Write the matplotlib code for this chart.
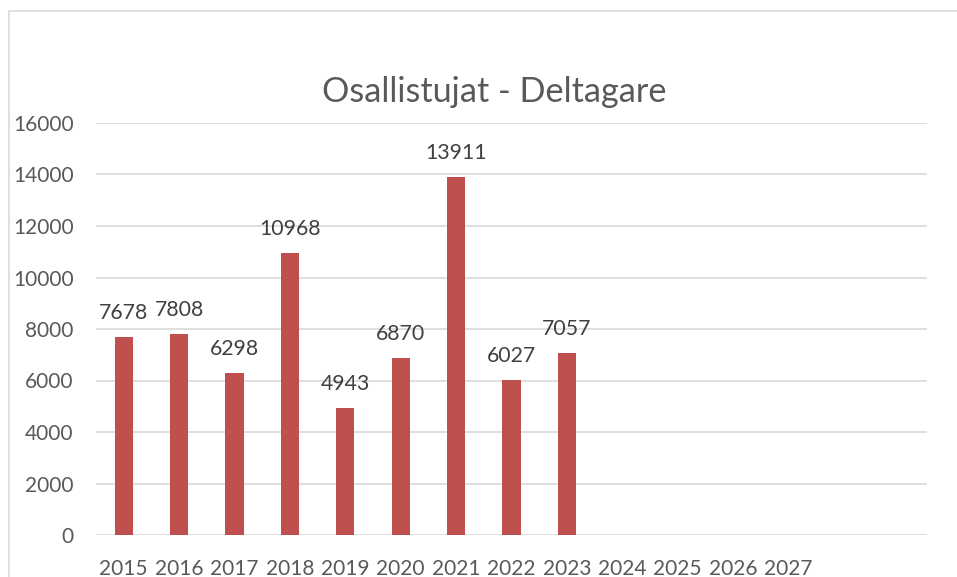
import matplotlib.pyplot as plt
from matplotlib.patches import Rectangle

years = ['2015', '2016', '2017', '2018', '2019', '2020', '2021', '2022', '2023',
         '2024', '2025', '2026', '2027', '', '']
values = [7678, 7808, 6298, 10968, 4943, 6870, 13911, 6027, 7057]
yticks = [0, 2000, 4000, 6000, 8000, 10000, 12000, 14000, 16000]

plt.rcParams['font.family'] = ['Lato', 'DejaVu Sans']

W, H = 957, 577
fig = plt.figure(figsize=(W / 100, H / 100), dpi=100)
ax = fig.add_axes([96 / W, (H - 535) / H, (927 - 96) / W, (535 - 123) / H])

# chart area border (cropped at right and bottom)
fig.patches.append(Rectangle((9 / W, -0.1), 1.2, (H - 11) / H + 0.1,
                             transform=fig.transFigure, fill=False,
                             edgecolor='#d9d9d9', linewidth=1.2))

x = list(range(len(years)))
bars = ax.bar(x[:len(values)], values, width=0.33, color='#c0504d', zorder=3)
ax.bar_label(bars, labels=[str(v) for v in values], padding=10,
             fontsize=15.3, color='#404040')

ax.set_xlim(-0.5, len(years) - 0.5)
ax.set_ylim(0, 16000)
ax.set_yticks(yticks)
ax.set_yticklabels([str(t) for t in yticks])
ax.set_xticks(x)
ax.set_xticklabels(years)
ax.tick_params(axis='both', length=0, labelsize=15, labelcolor='#595959')
ax.tick_params(axis='y', pad=16)
ax.tick_params(axis='x', pad=17)
ax.grid(axis='y', color='#d9d9d9', linewidth=1.2, zorder=0)
for s in ax.spines.values():
    s.set_visible(False)

fig.text(494 / W, (H - 92) / H, 'Osallistujat - Deltagare', ha='center',
         va='center', fontsize=24.7, color='#595959')

fig.savefig('out.png', dpi=100)
